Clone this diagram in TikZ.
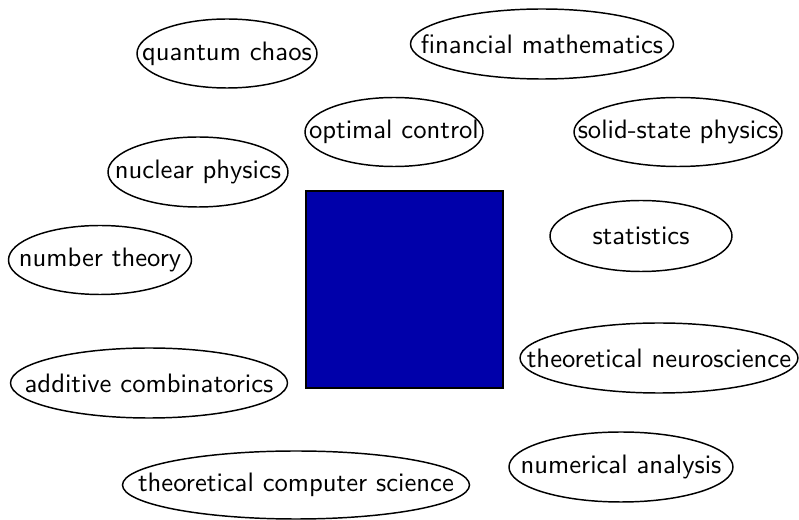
\documentclass[tikz,border=0pt]{standalone}
\usetikzlibrary{shapes.geometric}
\definecolor{sqblue}{RGB}{0,0,170}
\begin{document}
\begin{tikzpicture}[x=0.375pt,y=-0.375pt,
  topic/.style n args={2}{ellipse, draw, line width=0.55pt, inner sep=0pt,
    minimum width=#1*0.375pt, minimum height=#2*0.375pt, font=\sffamily},
  block/.style={draw, fill=sqblue, line width=0.55pt}]
\useasboundingbox (0,0) rectangle (799,520);
\newcommand{\tx}[1]{\makebox[0pt]{#1}}
\node[topic={180}{69}] (qc) at (227,53.5) {\tx{quantum chaos}};
\node[topic={263}{70}] (fm) at (542,44) {\tx{financial mathematics}};
\node[topic={178}{69}] (oc) at (394,132) {\tx{optimal control}};
\node[topic={208}{69}] (ssp) at (678,132) {\tx{solid-state physics}};
\node[topic={180}{70}] (np) at (198,172) {\tx{nuclear physics}};
\node[topic={182}{71}] (st) at (641,236) {\tx{statistics}};
\node[topic={183}{69}] (nt) at (100,260) {\tx{number theory}};
\node[topic={278}{70}] (tn) at (659,358) {\tx{theoretical neuroscience}};
\node[topic={277}{70}] (ac) at (149,383) {\tx{additive combinatorics}};
\node[topic={224}{70}] (na) at (621,467) {\tx{numerical analysis}};
\node[topic={347}{68}] (tcs) at (296,485) {\tx{theoretical computer science}};
\node[block, minimum width=197*0.375pt, minimum height=197*0.375pt, inner sep=0pt] (sq) at (404.5,289.5) {};
\end{tikzpicture}
\end{document}
